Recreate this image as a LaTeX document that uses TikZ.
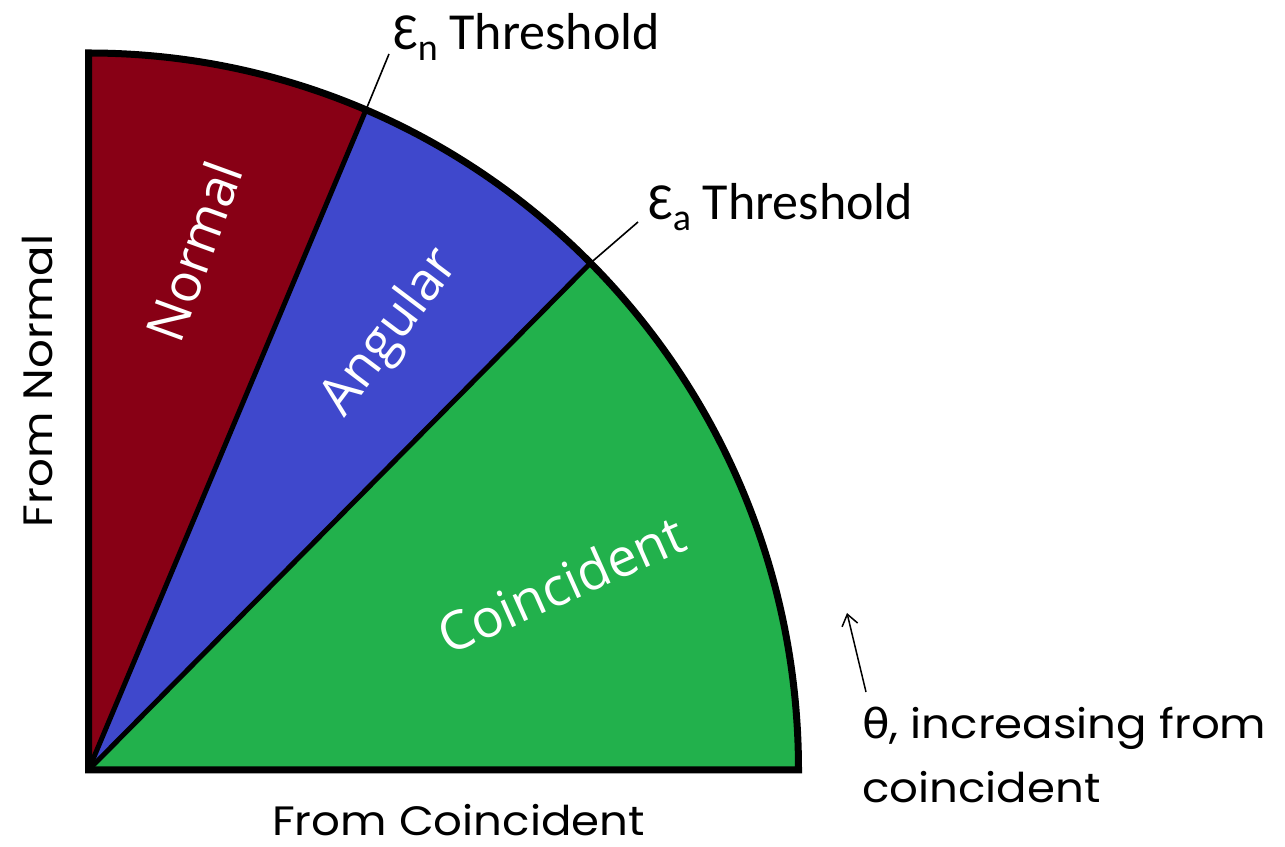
\documentclass[tikz,border=0pt]{standalone}
\usepackage{fontspec}
\setmainfont{Carlito}
\newfontfamily\gothic[FakeStretch=1.1]{Poppins}
\newfontfamily\regionfont{Open Sans}
\newfontfamily\greekfont[FakeStretch=1.1]{DejaVu Sans}
\usetikzlibrary{arrows.meta,calc}
\definecolor{regred}{HTML}{880015}
\definecolor{regblue}{HTML}{3F48CC}
\definecolor{reggreen}{HTML}{22B14C}
\begin{document}
\begin{tikzpicture}[x=1pt,y=1pt,
  outline/.style={line width=7pt,line join=miter},
  divider/.style={line width=5pt},
  leader/.style={line width=1.6pt},
  regionlabel/.style={text=white,font=\regionfont\fontsize{53}{60}\selectfont,inner sep=0pt},
  threshlabel/.style={font=\fontsize{52}{60}\selectfont,inner sep=0pt,anchor=base west},
  axislabel/.style={font=\gothic\fontsize{41}{50}\selectfont,inner sep=0pt}]
\useasboundingbox (0,0) rectangle (1285,846);
% geometry
\coordinate (O) at (88.5,76);
\coordinate (T) at (88.5,793);
\coordinate (R) at (798.5,76);
\coordinate (P1) at ($(O)+({710*cos(67)},{717*sin(67)})$);
\coordinate (P2) at ($(O)+({710*cos(45)},{717*sin(45)})$);
% sectors
\fill[regred] (O) -- (T) arc[start angle=90,end angle=67,x radius=710,y radius=717] -- cycle;
\fill[regblue] (O) -- (P1) arc[start angle=67,end angle=45,x radius=710,y radius=717] -- cycle;
\fill[reggreen] (O) -- (P2) arc[start angle=45,end angle=0,x radius=710,y radius=717] -- cycle;
\draw[divider] (O) -- (P1);
\draw[divider] (O) -- (P2);
\draw[outline] (O) -- (T) arc[start angle=90,end angle=0,x radius=710,y radius=717] -- cycle;
% region labels
\node[regionlabel,rotate=70] (lnormal) at (194,595) {Normal};
\node[regionlabel,rotate=53] (langular) at (391,513) {Angular};
\node[regionlabel,rotate=24] (lcoinc) at (561,262) {Coincident};
% thresholds
\node[threshlabel] (tn) at (393,796) {Ɛ\raisebox{-11pt}{\fontsize{38}{38}\selectfont n} Threshold};
\node[threshlabel] (ta) at (648,626) {Ɛ\raisebox{-11pt}{\fontsize{38}{38}\selectfont a} Threshold};
\coordinate (tnend) at (389,792);
\coordinate (taend) at (638,624);
\draw[leader] (P1) -- (tnend);
\draw[leader] (P2) -- (taend);
% axis labels
\node[axislabel,anchor=base west] (fc) at (272,11) {From Coincident};
\node[axislabel,anchor=base,rotate=90] (fn) at (53,465) {From Normal};
\node[axislabel,anchor=north west,align=left] (theta) at (862,139) {{\greekfont θ}, increasing from\\[14pt]coincident};
\coordinate (arrs) at (866,154);
\coordinate (arre) at (847,233);
\draw[line width=1.5pt,-{Straight Barb[length=11pt,width=16pt]}] (arrs) -- (arre);
\end{tikzpicture}
\end{document}
